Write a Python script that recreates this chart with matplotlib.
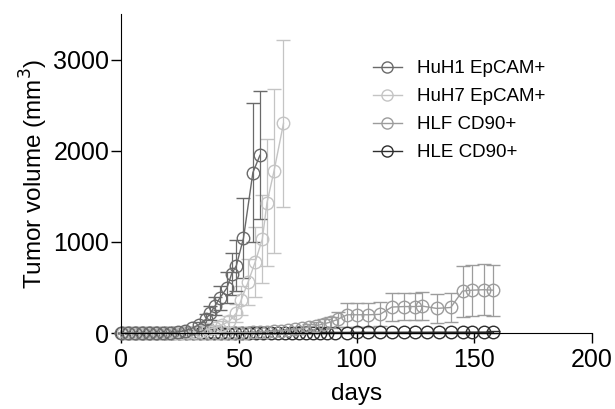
import matplotlib.pyplot as plt
from matplotlib.lines import Line2D

plt.rcParams['font.family'] = ['Liberation Sans', 'DejaVu Sans']

# HuH1 EpCAM+
huh1_days = [0, 3, 6, 9, 12, 15, 18, 21, 24, 27, 30, 33, 36, 38, 40, 42, 45, 47, 49, 52, 56, 59]
huh1_vol = [0, 0, 0, 0, 0, 0, 2, 5, 10, 25, 50, 90, 150, 220, 300, 385, 495, 650, 740, 1040, 1760, 1950]
huh1_sem = [0, 0, 0, 0, 0, 0, 2, 4, 6, 12, 20, 35, 55, 75, 100, 130, 170, 230, 280, 440, 760, 700]

# HuH7 EpCAM+
huh7_days = [1, 4, 7, 10, 13, 16, 19, 22, 25, 28, 31, 34, 37, 40, 43, 46, 49, 51, 54, 57, 60, 62, 65, 69]
huh7_vol = [0, 0, 0, 0, 0, 0, 0, 2, 5, 10, 15, 25, 40, 60, 90, 130, 220, 360, 560, 780, 1030, 1430, 1780, 2300]
huh7_sem = [0, 0, 0, 0, 0, 0, 0, 2, 3, 5, 8, 12, 20, 30, 45, 60, 100, 160, 250, 380, 480, 700, 900, 915]

# HLF CD90+
hlf_days = [2, 5, 8, 11, 14, 17, 20, 23, 26, 29, 32, 35, 38, 41, 44, 47, 50, 53, 56, 59,
            62, 65, 68, 71, 74, 77, 80, 83, 86, 89, 92, 96, 100, 105, 110, 115, 120, 125,
            128, 134, 140, 145, 149, 154, 158]
hlf_vol = [0, 0, 0, 0, 0, 0, 0, 0, 0, 0, 0, 1, 2, 3, 3, 4, 4, 5, 8, 12,
           15, 20, 25, 30, 40, 50, 65, 80, 100, 120, 150, 200, 200, 200, 205, 285, 290, 290,
           295, 270, 280, 460, 470, 475, 470]
hlf_sem = [0, 0, 0, 0, 0, 0, 0, 0, 0, 0, 0, 1, 1, 2, 2, 2, 2, 3, 4, 6,
           8, 10, 12, 15, 20, 25, 30, 40, 50, 60, 80, 130, 130, 130, 130, 150, 150, 150,
           150, 160, 160, 280, 280, 280, 280]

# HLE CD90+
hle_days = [0.5, 3.5, 6.5, 9.5, 12.5, 15.5, 18.5, 21.5, 24.5, 27.5, 30.5, 33.5, 36.5, 39.5,
            42.5, 45.5, 48.5, 51.5, 54.5, 57.5, 60.5, 63.5, 66.5, 69.5, 72.5, 75.5, 78.5,
            81.5, 84.5, 87.5, 91, 96, 100, 105, 110, 115, 120, 125,
            130, 135, 140, 145, 149, 154, 158]
hle_vol = [0, 0, 0, 0, 0, 0, 0, 0, 0, 0, 0, 0, 0, 0, 0, 0, 1, 1, 1, 1,
           2, 2, 2, 3, 3, 3, 4, 4, 4, 5, 5, 5, 6, 6, 6, 6, 7, 7,
           7, 8, 8, 8, 9, 9, 10]
hle_sem = [0, 0, 0, 0, 0, 0, 0, 0, 0, 0, 0, 0, 0, 0, 0, 0, 1, 1, 1, 1,
           1, 1, 2, 2, 2, 2, 3, 3, 3, 3, 4, 4, 4, 4, 5, 5, 5, 5,
           5, 6, 6, 6, 6, 7, 7]

labels = ['HuH1 EpCAM+', 'HuH7 EpCAM+', 'HLF CD90+', 'HLE CD90+']
colors = ['#6a6a6a', '#c4c4c4', '#9c9c9c', '#2e2e2e']

fig = plt.figure(figsize=(6.15, 4.09), dpi=100)
ax = fig.add_axes([0.1967, 0.1858, 0.766, 0.78])

series = [(hle_days, hle_vol, hle_sem, colors[3]),
          (hlf_days, hlf_vol, hlf_sem, colors[2]),
          (huh7_days, huh7_vol, huh7_sem, colors[1]),
          (huh1_days, huh1_vol, huh1_sem, colors[0])]
for d, v, s, c in series:
    eb = ax.errorbar(d, v, yerr=s, color=c, lw=1, marker='o', ms=9,
                     mfc='none', mec=c, mew=1, capsize=5, elinewidth=0.9,
                     capthick=0.9, clip_on=False)
    for part in eb.lines[1] + eb.lines[2]:
        part.set_clip_on(False)

ax.set_xlim(0, 200)
ax.set_ylim(0, 3500)
ax.set_xticks([0, 50, 100, 150, 200])
ax.set_yticks([0, 1000, 2000, 3000])
ax.spines['top'].set_visible(False)
ax.spines['right'].set_visible(False)
ax.tick_params(labelsize=18, length=7, width=1, direction='out', pad=1.5)
ax.tick_params(axis='x', pad=4)
ax.set_xlabel('days', fontsize=17.5, labelpad=8)
ax.set_ylabel('Tumor volume (mm$^3$)', fontsize=17.5, labelpad=2)

handles = [Line2D([], [], color=c, lw=1, marker='o', ms=8, mfc='none', mec=c)
           for c in colors]
ax.legend(handles, labels, loc='upper left', bbox_to_anchor=(0.5, 0.908),
          frameon=False, fontsize=13.5, handlelength=1.5, labelspacing=0.58,
          handletextpad=0.8)

fig.savefig('out.png', dpi=100)
